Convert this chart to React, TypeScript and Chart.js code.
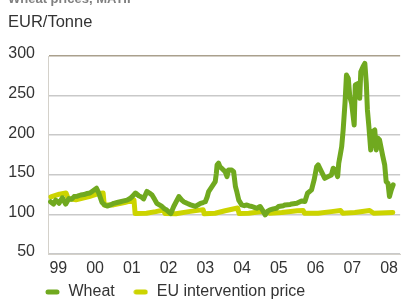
import { useEffect, useRef } from "react";
import { Chart, registerables } from "chart.js";

Chart.register(...registerables);

const FONT = '"Liberation Sans", Arial, Helvetica, sans-serif';

// Wheat price (MATIF), EUR/tonne — x in decimal years
const wheatYears = [
  1998.79, 1998.87, 1998.93, 1999.02, 1999.11, 1999.2, 1999.29, 1999.36, 1999.43, 1999.52,
  1999.61, 1999.7, 1999.79, 1999.86, 1999.92, 2000.04, 2000.1, 2000.19, 2000.26, 2000.33,
  2000.42, 2000.51, 2000.6, 2000.69, 2000.78, 2000.87, 2000.95, 2001.01, 2001.1, 2001.19,
  2001.26, 2001.32, 2001.41, 2001.48, 2001.55, 2001.62, 2001.68, 2001.75, 2001.82, 2001.89,
  2001.95, 2002.06, 2002.14, 2002.28, 2002.36, 2002.41, 2002.5, 2002.6, 2002.73, 2002.8,
  2002.87, 2002.94, 2003.0, 2003.05, 2003.09, 2003.18, 2003.27, 2003.3, 2003.32, 2003.36,
  2003.4, 2003.45, 2003.54, 2003.59, 2003.63, 2003.72, 2003.77, 2003.82, 2003.86, 2003.91,
  2003.99, 2004.06, 2004.13, 2004.2, 2004.27, 2004.35, 2004.4, 2004.49, 2004.56, 2004.63,
  2004.7, 2004.76, 2004.85, 2004.94, 2004.99, 2005.12, 2005.17, 2005.31, 2005.35, 2005.49,
  2005.53, 2005.62, 2005.71, 2005.78, 2005.89, 2005.96, 2006.03, 2006.07, 2006.16, 2006.25,
  2006.34, 2006.43, 2006.48, 2006.54, 2006.6, 2006.63, 2006.67, 2006.71, 2006.75, 2006.8,
  2006.84, 2006.89, 2006.93, 2006.98, 2007.05, 2007.08, 2007.16, 2007.2, 2007.23, 2007.29,
  2007.34, 2007.38, 2007.41, 2007.45, 2007.5, 2007.55, 2007.61, 2007.65, 2007.7, 2007.74,
  2007.83, 2007.88, 2007.92, 2007.97, 2008.01, 2008.06, 2008.11,
];
const wheatPrices = [
  116, 113, 118, 114, 121, 113, 120, 119, 122.5, 123,
  124.5, 125, 126.5, 127, 129, 133, 127, 115, 112, 110.5,
  112, 114, 115, 116, 117, 118, 120, 122.5, 127, 123.5,
  122, 119.5, 129, 127, 124.5, 119, 114, 112, 110, 107,
  105.5, 101, 110, 122.5, 118, 116, 114, 112, 110, 112,
  114, 115, 116, 122, 128.8, 135, 141.4, 152, 162.5, 164.6,
  160, 158, 154, 147.7, 156, 156, 154, 135, 128, 118,
  112, 111, 112, 110.5, 110, 108.5, 107.8, 110, 105, 99.4,
  104, 105.7, 107, 107.8, 109.9, 111, 112, 112.5, 113.2, 114,
  114.9, 117, 116.2, 126.7, 130.9, 143.5, 160.4, 162.5, 154, 145.6,
  147.7, 149.8, 158.3, 156.2, 147.7, 164.6, 175, 185.6, 206.6, 240.3,
  276, 271.8, 248.7, 240.3, 212.9, 263.4, 265.5, 246.6, 280.2, 286.5,
  290.7, 265.5, 231.9, 210.8, 181.4, 204.5, 206.6, 181.4, 196.1, 194,
  173, 162.5, 141.4, 139.3, 122.5, 130.9, 137.2,
];

// EU intervention price, EUR/tonne
const euYears = [
  1998.8, 1999.03, 1999.21, 1999.27, 1999.48, 1999.84, 2000.11, 2000.22, 2000.25, 2000.5,
  2000.8, 2001.06, 2001.09, 2001.4, 2001.65, 2001.87, 2001.9, 2002.2, 2002.55, 2002.94,
  2002.97, 2003.27, 2003.54, 2003.88, 2003.92, 2004.18, 2004.54, 2004.7, 2004.75, 2005.08,
  2005.5, 2005.66, 2005.7, 2006.07, 2006.43, 2006.68, 2006.74, 2007.07, 2007.47, 2007.58,
  2008.1,
];
const euPrices = [
  122, 125.5, 127, 120, 118.5, 122.5, 126.5, 127, 112, 112,
  115, 118, 101, 101.5, 103.5, 105.5, 101, 100.8, 103.5, 106,
  100.8, 101.5, 104.6, 108, 101, 101.5, 103.5, 102.5, 101.5, 102.5,
  104.6, 105, 101.5, 101.5, 103.5, 105, 101.5, 102.5, 105, 101.5,
  102.5,
];

const seriesLabels = ["Wheat", "EU intervention price"];
const seriesColors = ["#70a91f", "#ccd400"];

const yearTicks = [1999, 2000, 2001, 2002, 2003, 2004, 2005, 2006, 2007, 2008];
const yearTickLabels = ["99", "00", "01", "02", "03", "04", "05", "06", "07", "08"];
const priceTicks = [50, 100, 150, 200, 250, 300];

function makePill(color: string) {
  const c = document.createElement("canvas");
  c.width = 15;
  c.height = 6;
  const g = c.getContext("2d")!;
  g.strokeStyle = color;
  g.lineWidth = 5;
  g.lineCap = "round";
  g.beginPath();
  g.moveTo(3, 3);
  g.lineTo(12, 3);
  g.stroke();
  return c;
}

// Widen the label clip boxes after layout so that axis labels are not cut off
const unclipLabels = {
  id: "unclipLabels",
  afterLayout(chart: any) {
    const y = chart.scales.y;
    const x = chart.scales.x;
    if (y) y.left = 0;
    if (x) x.bottom = chart.height;
  },
};

export default function App() {
  const ref = useRef<HTMLCanvasElement | null>(null);

  useEffect(() => {
    if (!ref.current) return;
    const pills = seriesColors.map((c) => makePill(c));
    const chart = new Chart(ref.current, {
      type: "line",
      plugins: [unclipLabels],
      data: {
        datasets: [
          {
            label: seriesLabels[0],
            data: wheatYears.map((x, i) => ({ x, y: wheatPrices[i] })),
            borderColor: seriesColors[0],
            backgroundColor: seriesColors[0],
            borderWidth: 5,
            borderCapStyle: "round",
            borderJoinStyle: "round",
            pointRadius: 0,
            tension: 0,
          },
          {
            label: seriesLabels[1],
            data: euYears.map((x, i) => ({ x, y: euPrices[i] })),
            borderColor: seriesColors[1],
            backgroundColor: seriesColors[1],
            borderWidth: 5,
            borderCapStyle: "round",
            borderJoinStyle: "round",
            pointRadius: 0,
            tension: 0,
          },
        ],
      },
      options: {
        animation: false,
        responsive: false,
        maintainAspectRatio: false,
        events: [],
        layout: { padding: { top: 56, left: 26.5, right: 0, bottom: 0 } },
        scales: {
          x: {
            type: "linear",
            min: 1998.72,
            max: 2008.3,
            afterBuildTicks: (s: any) => {
              s.ticks = yearTicks.map((v) => ({ value: v }));
            },
            afterFit: (s: any) => {
              s.height = 12;
            },
            grid: { display: false, drawTicks: false },
            border: { display: true, color: "#d4d1ca", width: 1 },
            ticks: {
              padding: 5,
              autoSkip: false,
              maxRotation: 0,
              color: "#333333",
              font: { family: FONT, size: 16 },
              callback: (v: any) => {
                const i = yearTicks.indexOf(Number(v));
                return i >= 0 ? yearTickLabels[i] : "";
              },
            },
          },
          y: {
            type: "linear",
            min: 50,
            max: 300,
            afterBuildTicks: (s: any) => {
              s.ticks = priceTicks.map((v) => ({ value: v }));
            },
            afterFit: (s: any) => {
              s.width = 21.5;
            },
            grid: {
              drawTicks: false,
              lineWidth: 1.5,
              color: (ctx: any) =>
                ctx.tick && ctx.tick.value === 300 ? "#aaa08d" : "#c9c9c9",
            },
            border: { display: true, color: "#d4d1ca", width: 1 },
            ticks: {
              padding: 13,
              labelOffset: -2,
              color: "#333333",
              font: { family: FONT, size: 16 },
            },
          },
        },
        plugins: {
          tooltip: { enabled: false },
          legend: {
            position: "bottom",
            align: "start",
            labels: {
              usePointStyle: true,
              pointStyleWidth: 16,
              padding: 18,
              color: "#333333",
              font: { family: FONT, size: 16 },
              generateLabels: (ch: any) =>
                ch.data.datasets.map((ds: any, i: number) => ({
                  text: ds.label,
                  pointStyle: pills[i],
                  fillStyle: ds.borderColor,
                  strokeStyle: ds.borderColor,
                  lineWidth: 0,
                  hidden: false,
                  datasetIndex: i,
                  fontColor: "#333333",
                })),
            },
          },
        },
      },
    } as any);
    return () => chart.destroy();
  }, []);

  return (
    <div
      style={{
        position: "fixed",
        left: 0,
        top: 0,
        width: 403,
        height: 299,
        overflow: "hidden",
        background: "#ffffff",
      }}
    >
      <canvas
        ref={ref}
        width={403}
        height={310}
        style={{ position: "absolute", left: 0, top: 0, width: 403, height: 310 }}
      />
      <div
        style={{
          position: "absolute",
          left: 8,
          top: -8,
          fontFamily: FONT,
          fontWeight: "bold",
          fontSize: 13,
          lineHeight: 1,
          color: "#7f7f7f",
          whiteSpace: "nowrap",
        }}
      >
        Wheat prices, MATIF
      </div>
      <div
        style={{
          position: "absolute",
          left: 8,
          top: 13.3,
          fontFamily: FONT,
          fontSize: 16.5,
          lineHeight: 1,
          color: "#333333",
          whiteSpace: "nowrap",
        }}
      >
        EUR/Tonne
      </div>
    </div>
  );
}
